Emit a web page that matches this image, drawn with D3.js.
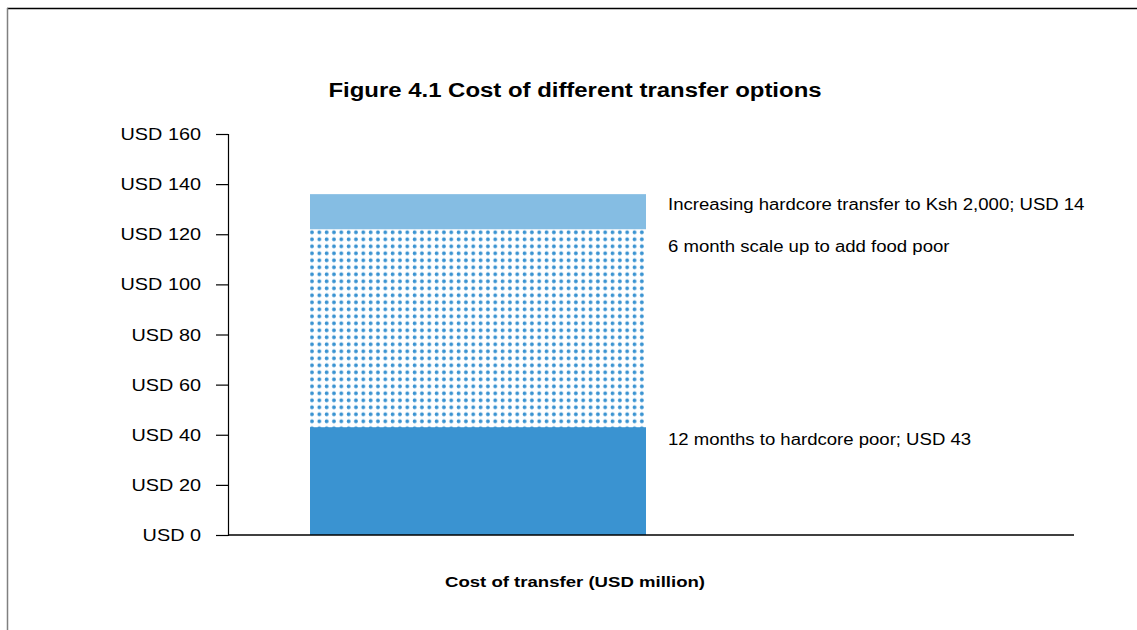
<!DOCTYPE html>
<html>
<head>
<meta charset="utf-8">
<script src="https://cdn.jsdelivr.net/npm/d3@7"></script>
<style>
  html, body { margin: 0; padding: 0; background: #fff; }
  svg { display: block; font-family: "Liberation Sans", Arial, sans-serif; }
</style>
</head>
<body>
<svg id="chart" width="1137" height="630"></svg>
<script>
// ---- data ----
const categories = ["Cost of transfer (USD million)"];
const seriesNames = [
  "12 months to hardcore poor; USD 43",
  "6 month scale up to add food poor",
  "Increasing hardcore transfer to Ksh 2,000; USD 14"
];
const seriesValues = [43, 79, 14];
const tickValues = [0, 20, 40, 60, 80, 100, 120, 140, 160];
const tickLabels = ["USD 0", "USD 20", "USD 40", "USD 60", "USD 80", "USD 100", "USD 120", "USD 140", "USD 160"];
const titleText = "Figure 4.1 Cost of different transfer options";
const xAxisTitle = "Cost of transfer (USD million)";

// ---- layout ----
const W = 1137, H = 630;
const svg = d3.select("#chart");
const plot = { left: 228, right: 1074, top: 134, bottom: 535 };

const y = d3.scaleLinear().domain([0, 160]).range([plot.bottom, plot.top]);
const x = d3.scaleBand().domain(categories).range([310, 646]).padding(0);

// helper: horizontally stretched text
function stretchedText(sel, tx, ty, sx, anchor) {
  return sel.append("text")
    .attr("transform", `translate(${tx},${ty}) scale(${sx},1)`)
    .attr("text-anchor", anchor || "start");
}

// frame
svg.append("line").attr("x1", 7).attr("x2", W).attr("y1", 8.5).attr("y2", 8.5)
  .attr("stroke", "#000").attr("stroke-width", 1.3);
svg.append("line").attr("x1", 7.5).attr("x2", 7.5).attr("y1", 8).attr("y2", H)
  .attr("stroke", "#808080").attr("stroke-width", 1.5);

// pattern
const defs = svg.append("defs");
const pat = defs.append("pattern").attr("id", "dots")
  .attr("patternUnits", "userSpaceOnUse")
  .attr("width", 7.33).attr("height", 7.0)
  .attr("x", 308.5).attr("y", 228.8);
pat.append("circle").attr("cx", 3.5).attr("cy", 3.5).attr("r", 1.9).attr("fill", "#3a93d1");

const fills = ["#3a93d1", "url(#dots)", "#85bde3"];

// stacked
const stackData = [];
let acc = 0;
seriesValues.forEach((v, i) => { stackData.push({ name: seriesNames[i], y0: acc, y1: acc + v, i }); acc += v; });

const g = svg.append("g");
[0, 1, 2].forEach(i => {
  const d = stackData[i];
  g.append("rect")
    .attr("x", x(categories[0]))
    .attr("width", x.bandwidth())
    .attr("y", y(d.y1))
    .attr("height", y(d.y0) - y(d.y1) + (i === 1 ? 2 : 0))
    .attr("fill", fills[i]);
});

// y axis
const yAxis = d3.axisLeft(y).tickValues(tickValues)
  .tickFormat((d, i) => tickLabels[i]).tickSize(12).tickPadding(14);
const ya = svg.append("g").attr("transform", `translate(${plot.left},0)`).call(yAxis);
ya.select(".domain").attr("stroke", "#000").attr("stroke-width", 1.2);
ya.selectAll(".tick line").attr("stroke", "#000").attr("stroke-width", 1.2);
ya.selectAll(".tick text").remove();
ya.selectAll(".tick").each(function(d, i) {
  stretchedText(d3.select(this), -27, 0, 1.24, "end")
    .attr("dy", "0.35em")
    .attr("font-size", 16)
    .attr("fill", "#000")
    .text(tickLabels[i]);
});

// x axis line
svg.append("line").attr("x1", plot.left).attr("x2", plot.right)
  .attr("y1", y(0)).attr("y2", y(0)).attr("stroke", "#000").attr("stroke-width", 1.5);

// labels
const labelOffsets = [12, 17, 10];
stackData.forEach((d, i) => {
  stretchedText(svg, 668, y(d.y1) + labelOffsets[i], 1.16)
    .attr("dy", "0.35em")
    .attr("font-size", 16)
    .attr("fill", "#000")
    .text(d.name);
});

// title
stretchedText(svg, 575, 97, 1.14, "middle")
  .attr("font-size", 21).attr("font-weight", "bold").text(titleText);
stretchedText(svg, 575, 587, 1.24, "middle")
  .attr("font-size", 15).attr("font-weight", "bold").text(xAxisTitle);
</script>
</body>
</html>
